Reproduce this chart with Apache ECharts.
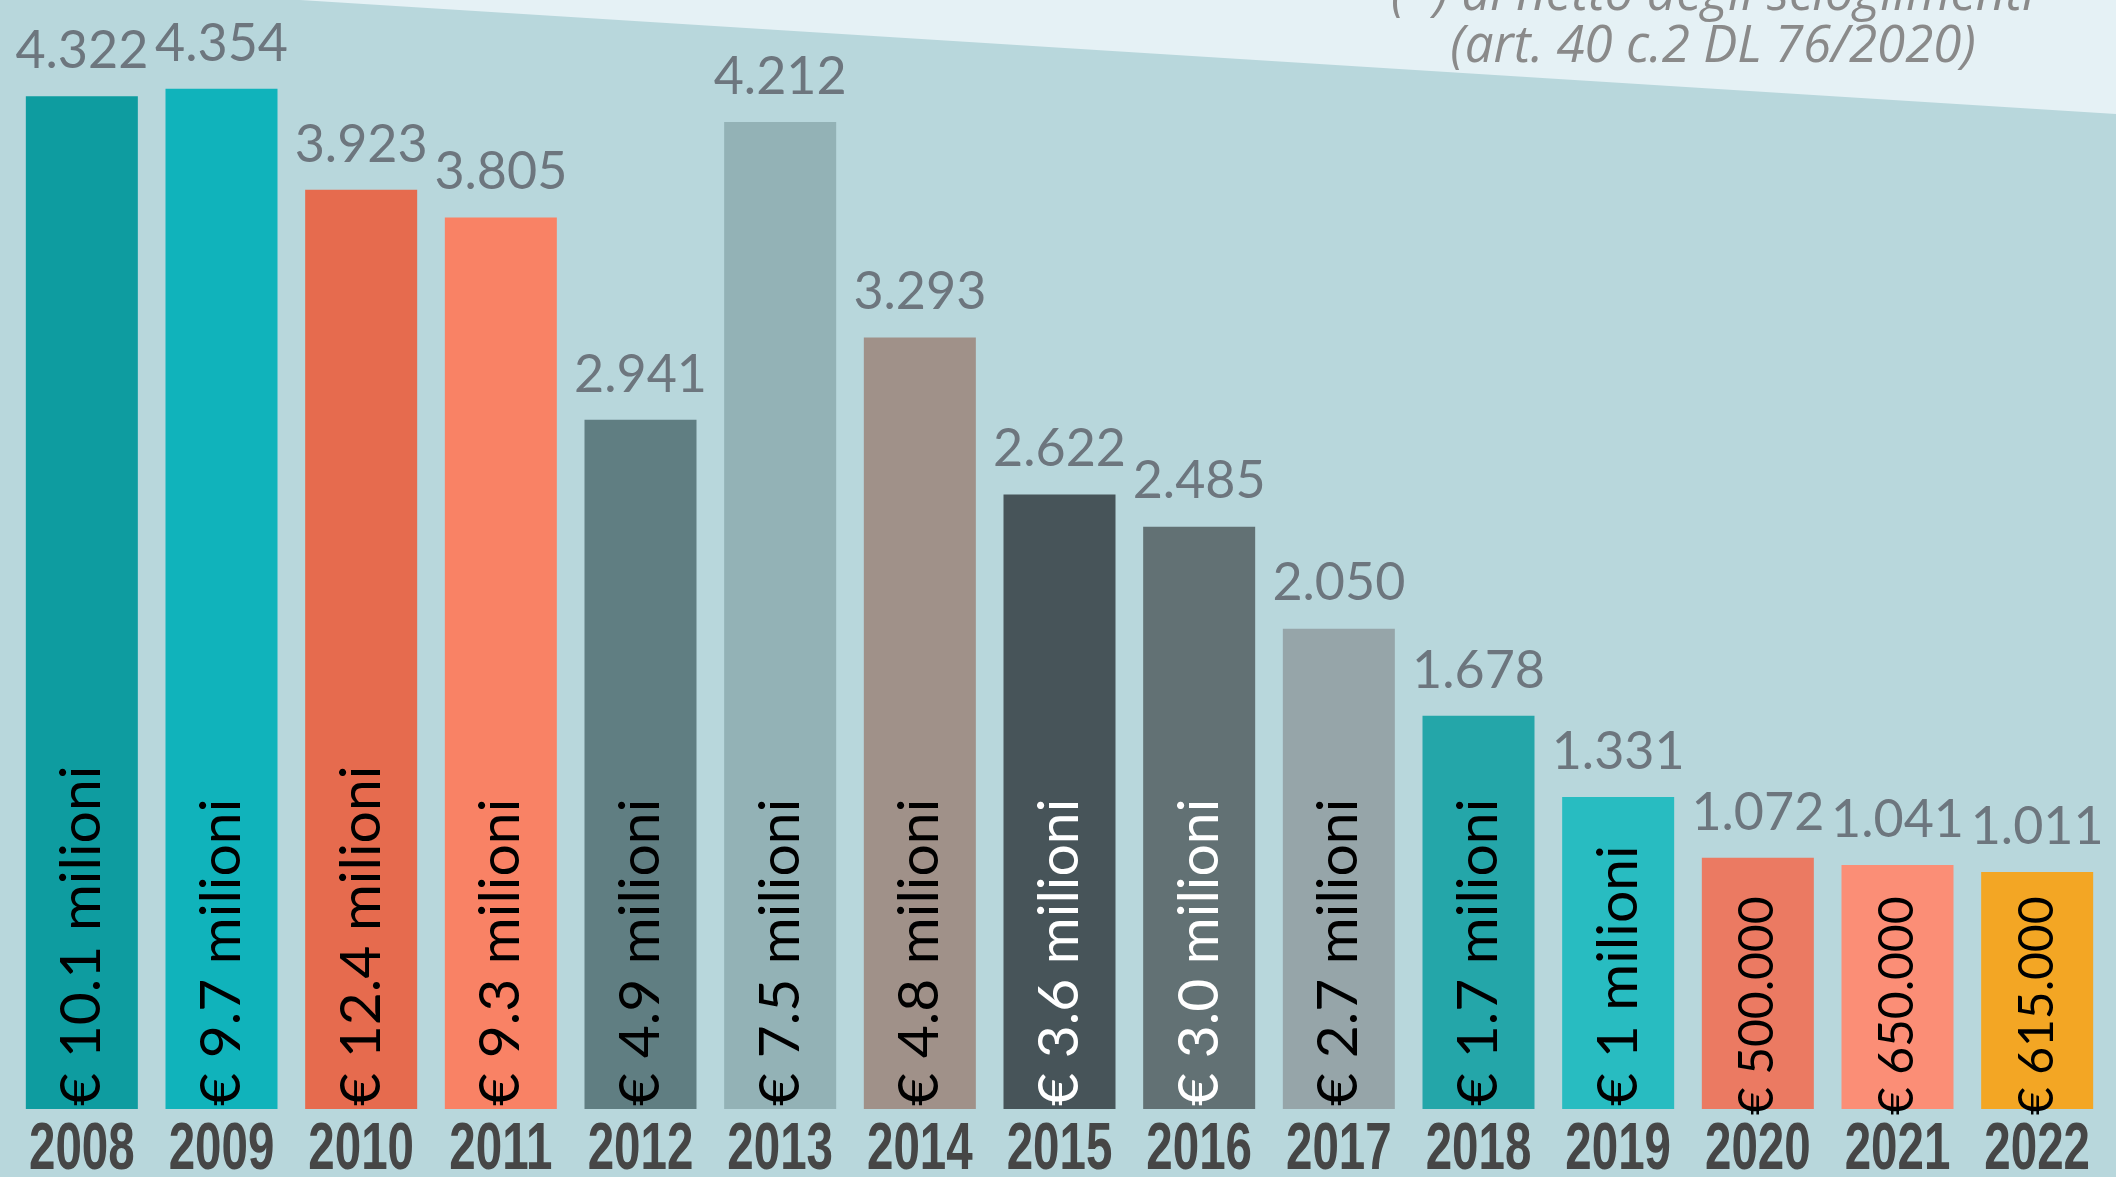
<!DOCTYPE html>
<html>
<head>
<meta charset="utf-8">
<script src="https://cdn.jsdelivr.net/npm/echarts@6/dist/echarts.min.js"></script>
<style>
  html, body { margin: 0; padding: 0; background: #b8d7dc; }
  #chart { width: 2116px; height: 1177px; }
</style>
</head>
<body>
<div id="chart"></div>
<script>
// anni
const years = ['2008', '2009', '2010', '2011', '2012', '2013', '2014', '2015',
  '2016', '2017', '2018', '2019', '2020', '2021', '2022']
// numero (al netto degli scioglimenti)
const counts = [4322, 4354, 3923, 3805, 2941, 4212, 3293, 2622, 2485, 2050, 1678, 1331, 1072, 1041, 1011]
// importo
const amounts = ['€ 10.1 milioni', '€ 9.7 milioni', '€ 12.4 milioni', '€ 9.3 milioni', '€ 4.9 milioni',
  '€ 7.5 milioni', '€ 4.8 milioni', '€ 3.6 milioni', '€ 3.0 milioni', '€ 2.7 milioni',
  '€ 1.7 milioni', '€ 1 milioni', '€ 500.000', '€ 650.000', '€ 615.000']
const noteLines = ['(*) al netto degli scioglimenti', '(art. 40 c.2 DL 76/2020)']

const barColors = ['#0e9ca0', '#10b3bb', '#e66b4e', '#f98265', '#607e82', '#93b2b6', '#a09189',
  '#475459', '#627174', '#96a5a9', '#24a6a9', '#28bcc1', '#eb7a62', '#fb8e76', '#f3a624']
const darkBars = [7, 8]      // etichette bianche
const smallLabels = [12, 13, 14] // importi in migliaia

const chart = echarts.init(document.getElementById('chart'))

const barData = counts.map((v, i) => {
  const small = smallLabels.includes(i)
  return {
    value: v,
    itemStyle: { color: barColors[i] },
    label: {
      color: darkBars.includes(i) ? '#ffffff' : '#000000',
      fontSize: small ? 48 : 57,
      distance: small ? -6 : 3
    }
  }
})

chart.setOption({
  backgroundColor: '#b8d7dc',
  animation: false,
  grid: { left: 12, right: 9, top: 78, bottom: 68 },
  xAxis: {
    type: 'category',
    data: years,
    axisLine: { show: false },
    axisTick: { show: false },
    // the years are drawn by the custom series below (condensed type)
    axisLabel: { show: false }
  },
  yAxis: {
    type: 'value',
    min: 0,
    max: 4400,
    show: false,
    splitLine: { show: false }
  },
  graphic: [
    {
      type: 'polygon',
      silent: true,
      z: -1,
      shape: { points: [[300, 0], [2116, 0], [2116, 114]] },
      style: { fill: '#e5f1f5' }
    },
    {
      type: 'text',
      silent: true,
      x: 1713,
      y: -5,
      style: {
        text: noteLines[0],
        align: 'center',
        verticalAlign: 'middle',
        fill: '#8a8a8a',
        font: 'italic 51px "Open Sans"'
      }
    },
    {
      type: 'text',
      silent: true,
      x: 1713,
      y: 47,
      style: {
        text: noteLines[1],
        align: 'center',
        verticalAlign: 'middle',
        fill: '#8a8a8a',
        font: 'italic 51px "Open Sans"'
      }
    }
  ],
  series: [
    {
      type: 'bar',
      data: barData,
      barWidth: 112,
      label: {
        show: true,
        position: 'insideBottom',
        rotate: 90,
        align: 'left',
        verticalAlign: 'middle',
        fontFamily: 'Lato',
        formatter: p => amounts[p.dataIndex]
      }
    },
    {
      // etichette dei valori sopra le barre
      type: 'bar',
      data: counts,
      barWidth: 112,
      barGap: '-100%',
      itemStyle: { color: 'transparent' },
      silent: true,
      z: 3,
      label: {
        show: true,
        position: 'top',
        distance: 19,
        color: '#6d767e',
        fontFamily: 'Lato',
        fontSize: 52,
        formatter: p => echarts.format.addCommas(p.value).replace(',', '.')
      }
    },
    {
      // anni sotto le barre
      type: 'custom',
      data: years.map((y, i) => [i, 0]),
      silent: true,
      renderItem: (params, api) => {
        const pt = api.coord([api.value(0), 0])
        return {
          type: 'text',
          x: pt[0],
          y: pt[1] + 42,
          scaleX: 0.72,
          style: {
            text: years[params.dataIndex],
            align: 'center',
            verticalAlign: 'middle',
            fill: '#464646',
            font: 'bold 66px "Liberation Sans"'
          }
        }
      }
    }
  ]
})
</script>
</body>
</html>
